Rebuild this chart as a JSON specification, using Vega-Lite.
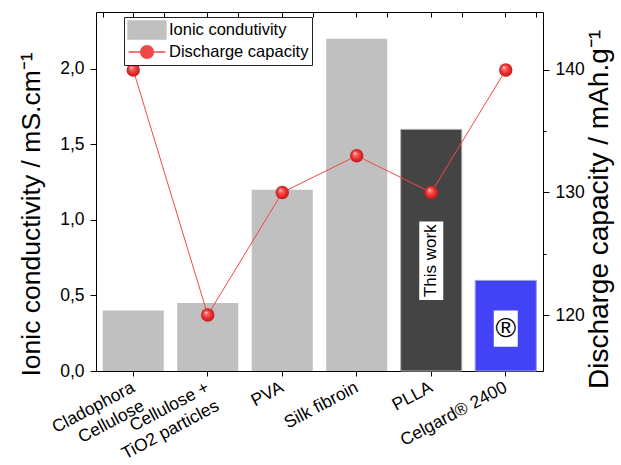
{
  "$schema": "https://vega.github.io/schema/vega-lite/v6.json",
  "width": 447,
  "height": 359,
  "autosize": "none",
  "padding": {"left": 96, "top": 12, "right": 78, "bottom": 94},
  "background": "white",
  "config": {
    "font": "Liberation Sans",
    "view": {"stroke": null},
    "axis": {
      "domainColor": "black",
      "tickColor": "black",
      "labelColor": "black",
      "titleColor": "black",
      "grid": false,
      "titleFontWeight": "normal",
      "labelFont": "Liberation Sans",
      "titleFont": "Liberation Sans",
      "domainWidth": 1,
      "tickWidth": 1
    }
  },
  "datasets": {
    "samples": [
      {"sample": "Cladophora|Cellulose", "conductivity": 0.4, "capacity": 140},
      {"sample": "Cellulose +|TiO2 particles", "conductivity": 0.45, "capacity": 120},
      {"sample": "PVA", "conductivity": 1.2, "capacity": 130},
      {"sample": "Silk fibroin", "conductivity": 2.2, "capacity": 133},
      {"sample": "PLLA", "conductivity": 1.6, "capacity": 130},
      {"sample": "Celgard® 2400", "conductivity": 0.6, "capacity": 140}
    ],
    "notes": [
      {"sample": "PLLA", "note": "This work", "low": 0.47, "high": 0.99, "mid": 0.73},
      {"sample": "Celgard® 2400", "note": "®", "low": 0.16, "high": 0.4, "mid": 0.28}
    ]
  },
  "data": {"name": "samples"},
  "layer": [
    {
      "encoding": {
        "x": {
          "field": "sample",
          "type": "nominal",
          "sort": null,
          "scale": {
            "domain": ["Cladophora|Cellulose", "Cellulose +|TiO2 particles", "PVA", "Silk fibroin", "PLLA", "Celgard® 2400"],
            "paddingInner": 0.18,
            "paddingOuter": 0.09
          },
          "axis": {
            "orient": "bottom",
            "title": null,
            "labelExpr": "split(datum.label, '|')",
            "labelAngle": -28,
            "labelAlign": "right",
            "labelBaseline": "top",
            "labelFontSize": 17.5,
            "labelLineHeight": 21,
            "labelPadding": 2,
            "labelOffset": -4,
            "tickSize": 5
          }
        }
      },
      "layer": [
        {
          "mark": {"type": "bar"},
          "encoding": {
            "y": {
              "field": "conductivity",
              "type": "quantitative",
              "title": "Ionic conductivity / mS.cm⁻¹",
              "scale": {"domain": [0, 2.377], "nice": false},
              "axis": {
                "orient": "left",
                "titleFontSize": 26.5,
                "titlePadding": 14,
                "titleY": 202,
                "values": [0, 0.25, 0.5, 0.75, 1, 1.25, 1.5, 1.75, 2, 2.25],
                "labelExpr": "abs(datum.value * 2 - round(datum.value * 2)) < 0.001 ? replace(format(datum.value, '.1f'), '.', ',') : ''",
                "labelFontSize": 17.5,
                "labelPadding": 6,
                "tickSize": {"condition": {"test": "abs(datum.value * 2 - round(datum.value * 2)) < 0.001", "value": 6}, "value": 3}
              }
            },
            "color": {
              "datum": "Ionic condutivity",
              "type": "nominal",
              "scale": {
                "domain": ["Ionic condutivity", "Discharge capacity"],
                "range": ["#c0c0c0", "#f04848"]
              },
              "legend": {
                "title": null,
                "orient": "none",
                "legendX": 28,
                "legendY": 5,
                "direction": "vertical",
                "labelFontSize": 16.5,
                "labelFont": "Liberation Sans",
                "labelColor": "black",
                "symbolSize": 324,
                "symbolOffset": 10,
                "labelOffset": 12,
                "strokeColor": "#222222",
                "fillColor": "white",
                "padding": 3,
                "rowPadding": -2,
                "encode": {
                  "symbols": {
                    "update": {
                      "shape": {"signal": "datum.value === 'Ionic condutivity' ? 'M-2.1,-1L2.1,-1L2.1,1L-2.1,1Z' : 'M-2.05,0L-0.78,0M0.78,0L2.05,0M-0.7,0A0.7,0.7,0,1,1,0.7,0A0.7,0.7,0,1,1,-0.7,0Z'"},
                      "fill": {"signal": "datum.value === 'Ionic condutivity' ? '#c0c0c0' : '#e83a3a'"},
                      "stroke": {"signal": "datum.value === 'Ionic condutivity' ? 'transparent' : '#ff8c8c'"},
                      "strokeWidth": {"value": 1.5},
                      "opacity": {"value": 1},
                      "fillOpacity": {"value": 1}
                    }
                  }
                }
              }
            }
          }
        },
        {
          "transform": [{"filter": "datum.sample === 'PLLA'"}],
          "mark": {"type": "bar", "color": "#444444", "stroke": "#b4b4b4", "strokeWidth": 1},
          "encoding": {"y": {"field": "conductivity", "type": "quantitative", "title": "Ionic conductivity / mS.cm⁻¹"}}
        },
        {
          "transform": [{"filter": "datum.sample === 'Celgard® 2400'"}],
          "mark": {"type": "bar", "color": "#4242f6", "stroke": "#a0a0e0", "strokeWidth": 1},
          "encoding": {"y": {"field": "conductivity", "type": "quantitative", "title": "Ionic conductivity / mS.cm⁻¹"}}
        },
        {
          "data": {"name": "notes"},
          "mark": {"type": "bar", "color": "white", "width": 24},
          "encoding": {
            "y": {"field": "low", "type": "quantitative", "title": "Ionic conductivity / mS.cm⁻¹"},
            "y2": {"field": "high"}
          }
        },
        {
          "data": {"name": "notes"},
          "mark": {"type": "text", "font": "Liberation Sans", "color": "black"},
          "encoding": {
            "y": {"field": "mid", "type": "quantitative", "title": "Ionic conductivity / mS.cm⁻¹"},
            "text": {"field": "note"},
            "size": {"condition": {"test": "datum.note === '®'", "value": 28}, "value": 17},
            "angle": {"condition": {"test": "datum.note === '®'", "value": 0}, "value": 270}
          }
        }
      ]
    },
    {
      "layer": [
        {
          "mark": {"type": "line", "strokeWidth": 1},
          "encoding": {
            "x": {
              "field": "sample",
              "type": "nominal",
              "sort": null,
              "scale": {
                "domain": ["Cladophora|Cellulose", "Cellulose +|TiO2 particles", "PVA", "Silk fibroin", "PLLA", "Celgard® 2400"],
                "paddingInner": 0.18,
                "paddingOuter": 0.09
              },
              "axis": {"orient": "top", "title": null, "labels": false, "tickSize": -5, "tickBand": "center"}
            },
            "y": {
              "field": "capacity",
              "type": "quantitative",
              "title": "Discharge capacity / mAh.g⁻¹",
              "scale": {"domain": [115.43, 144.73], "nice": false, "zero": false},
              "axis": {
                "orient": "right",
                "titleFontSize": 28,
                "titleAngle": 270,
                "titleBaseline": "top",
                "titlePadding": 1,
                "titleY": 197,
                "values": [120, 125, 130, 135, 140],
                "labelExpr": "datum.value % 10 === 0 ? datum.label : ''",
                "labelFontSize": 17.5,
                "labelPadding": 6,
                "tickSize": {"condition": {"test": "datum.value % 10 === 0", "value": 6}, "value": 3}
              }
            },
            "color": {"datum": "Discharge capacity", "type": "nominal"}
          }
        },
        {
          "mark": {
            "type": "point",
            "filled": true,
            "size": 180,
            "opacity": 1,
            "strokeWidth": 0,
            "fill": {
              "gradient": "radial",
              "x1": 0.35, "y1": 0.3, "r1": 0,
              "x2": 0.5, "y2": 0.5, "r2": 0.5,
              "stops": [
                {"offset": 0, "color": "#fff2f2"},
                {"offset": 0.25, "color": "#ff6a6a"},
                {"offset": 0.7, "color": "#e52a2a"},
                {"offset": 1, "color": "#c41c1c"}
              ]
            }
          },
          "encoding": {
            "x": {
              "field": "sample",
              "type": "nominal",
              "sort": null,
              "scale": {
                "domain": ["Cladophora|Cellulose", "Cellulose +|TiO2 particles", "PVA", "Silk fibroin", "PLLA", "Celgard® 2400"],
                "paddingInner": 0.18,
                "paddingOuter": 0.09
              },
              "axis": {"orient": "top", "title": null, "labels": false, "domain": false, "tickSize": -5, "tickBand": "extent"}
            },
            "y": {"field": "capacity", "type": "quantitative", "title": "Discharge capacity / mAh.g⁻¹"}
          }
        }
      ],
      "resolve": {"axis": {"x": "independent"}}
    }
  ],
  "resolve": {"scale": {"y": "independent"}, "axis": {"x": "independent", "y": "independent"}}
}
